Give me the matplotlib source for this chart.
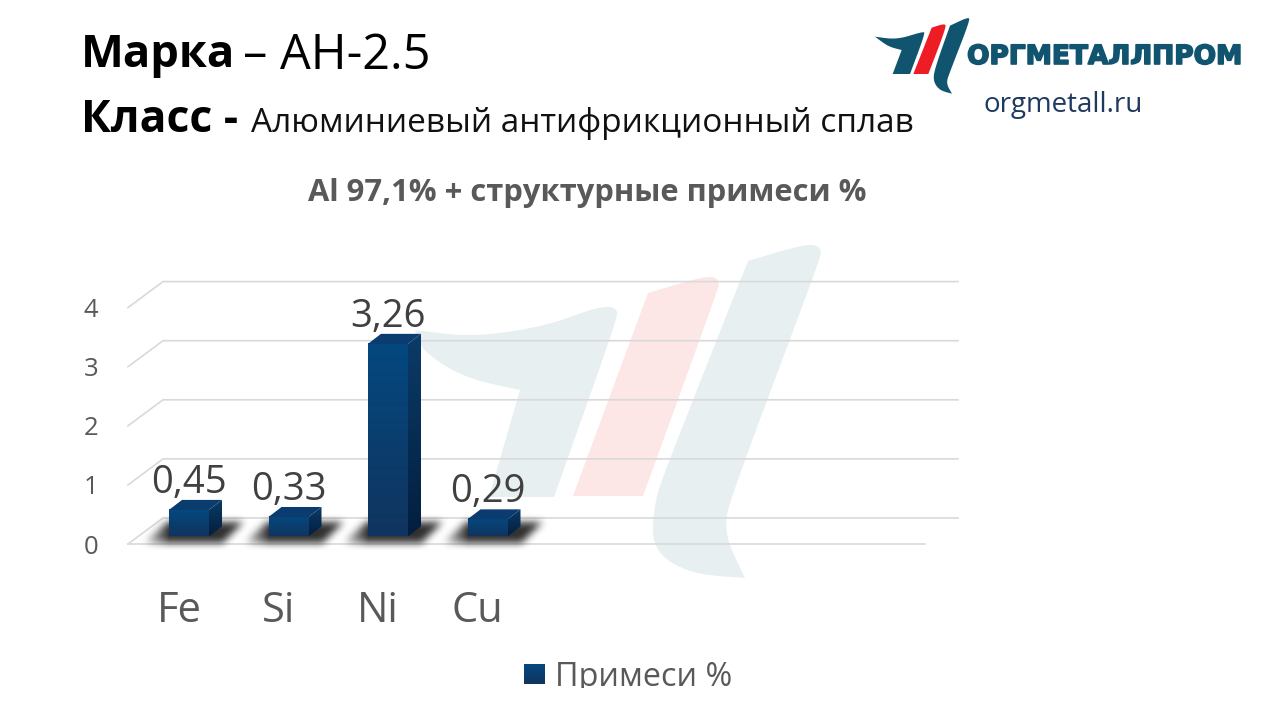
import numpy as np
import matplotlib
matplotlib.use("Agg")
import matplotlib.pyplot as plt
import matplotlib.patheffects as pe
from matplotlib.patches import Polygon, Rectangle
from matplotlib.path import Path

plt.rcParams['font.family'] = ['Open Sans', 'DejaVu Sans']

categories = ['Fe', 'Si', 'Ni', 'Cu']
values = [0.45, 0.33, 3.26, 0.29]
value_labels = ['0,45', '0,33', '3,26', '0,29']
y_ticks = [0, 1, 2, 3, 4]
series_name = 'Примеси %'

W, H = 1280, 720
PX_X = 99.5    # pixels per category
PX_Y = 59.1    # pixels per unit
X0, Y0 = 189, 536.5   # where category 0 / value 0 land
BAR_W = 40 / PX_X
GRID = '#d9d9d9'
LOGO_BLUE = '#11546f'
LOGO_RED = '#ee1c25'


def dx(px):
    return px / PX_X


def dy(px):
    return px / PX_Y


def vgrad(top, bottom, n=64):
    c0 = np.array(matplotlib.colors.to_rgb(top))
    c1 = np.array(matplotlib.colors.to_rgb(bottom))
    t = np.linspace(0, 1, n)[:, None]
    return (c0 * (1 - t) + c1 * t)[:, None, :]


def smooth(pts, sharp=(), rounds=3):
    # corner cutting, points listed in sharp stay as real corners
    pts = [(float(x), float(y), i in sharp) for i, (x, y) in enumerate(pts)]
    for _ in range(rounds):
        out = []
        n = len(pts)
        for i, p in enumerate(pts):
            if p[2]:
                out.append(p)
                continue
            a = pts[i - 1]
            b = pts[(i + 1) % n]
            out.append((p[0] * .75 + a[0] * .25, p[1] * .75 + a[1] * .25, False))
            out.append((p[0] * .75 + b[0] * .25, p[1] * .75 + b[1] * .25, False))
        pts = out
    return [(x, y) for x, y, _ in pts]


def blob(pts, color, ax, sharp=(), z=1):
    ax.add_patch(Polygon(smooth(pts, sharp), closed=True, fc=color, ec='none', zorder=z))


fig = plt.figure(figsize=(W / 100, H / 100), dpi=100, facecolor='white')

# background layer in pixel coordinates
bg = fig.add_axes([0, 0, 1, 1], zorder=0)
bg.set_xlim(0, W)
bg.set_ylim(H, 0)
bg.axis('off')

# watermark
wm_t = [(415, 330), (471, 337), (543, 327), (600, 306), (618, 308), (616, 322), (554, 497), (489, 497),
        (520, 390), (464, 378), (421, 350)]
wm_r = [(573, 496), (648, 293), (708, 275), (720, 280), (717, 292), (643, 496)]
wm_b = [(748, 261), (808, 243), (822, 248), (819, 262), (736, 483), (722, 530), (745, 578), (690, 574),
        (652, 550), (654, 505), (664, 473)]
blob(wm_t, '#e8eff1', bg, sharp=(0, 6, 7, 8))
blob(wm_r, '#fde6e6', bg, sharp=(0, 1, 5))
blob(wm_b, '#e8eff1', bg, sharp=(0, 6))

# logo
def logo_pts(pts):
    return [(860 + x / 3, 5 + y / 3) for x, y in pts]


blob(logo_pts([(45, 95), (110, 104), (188, 80), (196, 84), (150, 207), (98, 207), (125, 135), (85, 125)]), LOGO_BLUE, bg,
     sharp=(0, 4, 5, 6), z=3)
blob(logo_pts([(160, 207), (215, 68), (252, 56), (260, 64), (205, 207)]), LOGO_RED, bg, sharp=(0, 1, 4), z=3)
blob(logo_pts([(270, 62), (325, 36), (330, 46), (270, 200), (258, 235), (276, 266), (238, 256), (218, 225), (228, 180)]), LOGO_BLUE, bg,
     sharp=(0, 5), z=3)

bg.text(1104.5, 57, 'ОРГМЕТАЛЛПРОМ', family='DejaVu Sans', weight='bold', fontsize=19, color=LOGO_BLUE, ha='center', va='center', zorder=3,
        path_effects=[pe.withStroke(linewidth=1.2, foreground=LOGO_BLUE)])
bg.text(1063.5, 105, 'orgmetall.ru', fontsize=20, color='#1f3a5f', ha='center', va='center', zorder=3)

# header
bg.text(81, 56, 'Марка', fontsize=32.7, weight='bold', color='black', va='center')
bg.text(243, 56, '– АН-2.5', fontsize=35, color='black', va='center')
bg.text(81, 121, 'Класс -', fontsize=32, weight='bold', color='black', va='center')
bg.text(251, 123, 'Алюминиевый антифрикционный сплав', fontsize=24, color='#111111', va='center')
bg.text(587.5, 193, 'Al 97,1% + структурные примеси %', fontsize=22.2, weight='bold', color='#595959', ha='center', va='center')

# chart layer, x in category index, y in value
ax = fig.add_axes([0, 0, 1, 1], zorder=1)
ax.patch.set_visible(False)
ax.axis('off')
xlim = (-X0 / PX_X, (W - X0) / PX_X)
ylim = ((Y0 - H) / PX_Y, Y0 / PX_Y)

wall_left = dx(128 - X0)
floor_y = dy(-7.5)
depth_x, depth_y = dx(35), dy(26)
back_right = dx(958 - X0)

for v in y_ticks:
    ax.plot([wall_left, wall_left + depth_x, back_right], [floor_y + v, floor_y + v + depth_y, floor_y + v + depth_y],
            color=GRID, lw=1.2, zorder=2, solid_joinstyle='miter')
    ax.text(wall_left - dx(37), floor_y + v - dy(3), str(v), fontsize=18.5, color='#595959', ha='center', va='center')
ax.plot([wall_left, dx(925 - X0)], [floor_y, floor_y], color=GRID, lw=1.2, zorder=2)

# soft floor shadows
shadow_poly = Path([(-27, 6), (-2, -15), (74, -15), (54, 6), (-27, 6)])
sx = np.arange(-44, 94)
sy = np.arange(-30, 22)
gx, gy = np.meshgrid(sx, sy)
mask = shadow_poly.contains_points(np.c_[gx.ravel(), gy.ravel()]).reshape(gx.shape).astype(float)
kernel = np.ones(9) / 9
for axis in (0, 1):
    mask = np.apply_along_axis(lambda r: np.convolve(r, kernel, mode='same'), axis, mask)
    mask = np.apply_along_axis(lambda r: np.convolve(r, kernel, mode='same'), axis, mask)
# fades out to the left, stays dark close to the bar
fade = np.clip((gx + 30) / 30, 0.15, 1)
shadow = np.zeros(mask.shape + (4,))
shadow[..., :3] = 0.15
shadow[..., 3] = mask * fade * 0.95

bar_d_x, bar_d_y = dx(13), dy(10)
for i, v in enumerate(values):
    left = i - BAR_W / 2
    right = i + BAR_W / 2
    ax.imshow(shadow, extent=(left + dx(-44), left + dx(94), dy(-22), dy(30)), aspect='auto', zorder=3, interpolation='bilinear')
    ax.imshow(vgrad('#04487f', '#10345f'), extent=(left, right, 0, v), aspect='auto', zorder=4)
    side = ax.imshow(vgrad('#0b3b68', '#031f3f'), extent=(right, right + bar_d_x, 0, v + bar_d_y), aspect='auto', zorder=4)
    side_poly = Polygon([(right, 0), (right + bar_d_x, bar_d_y), (right + bar_d_x, v + bar_d_y), (right, v)], transform=ax.transData, fc='none', ec='none')
    ax.add_patch(side_poly)
    side.set_clip_path(side_poly)
    ax.add_patch(Polygon([(left, v), (right, v), (right + bar_d_x, v + bar_d_y), (left + bar_d_x, v + bar_d_y)], fc='#0a3c70', ec='none', zorder=4))
    ax.text(i, v + dy(27), value_labels[i], fontsize=27.5, color='#404040', ha='center', va='center', zorder=6)
    ax.text(i - 0.1, dy(-74.5), categories[i], fontsize=30, color='#595959', ha='center', va='center', zorder=6)

ax.set_xlim(xlim)
ax.set_ylim(ylim)

# legend
bg.imshow(vgrad('#04487f', '#10345f'), extent=(524, 545, 684, 664), aspect='auto', zorder=3)
bg.set_xlim(0, W)
bg.set_ylim(H, 0)
bg.text(555, 678, series_name, fontsize=23.3, color='#595959', va='center', zorder=3)
bg.add_patch(Rectangle((0, 688), W, 32, fc='white', ec='none', zorder=4))

fig.savefig('out.png', dpi=100)
